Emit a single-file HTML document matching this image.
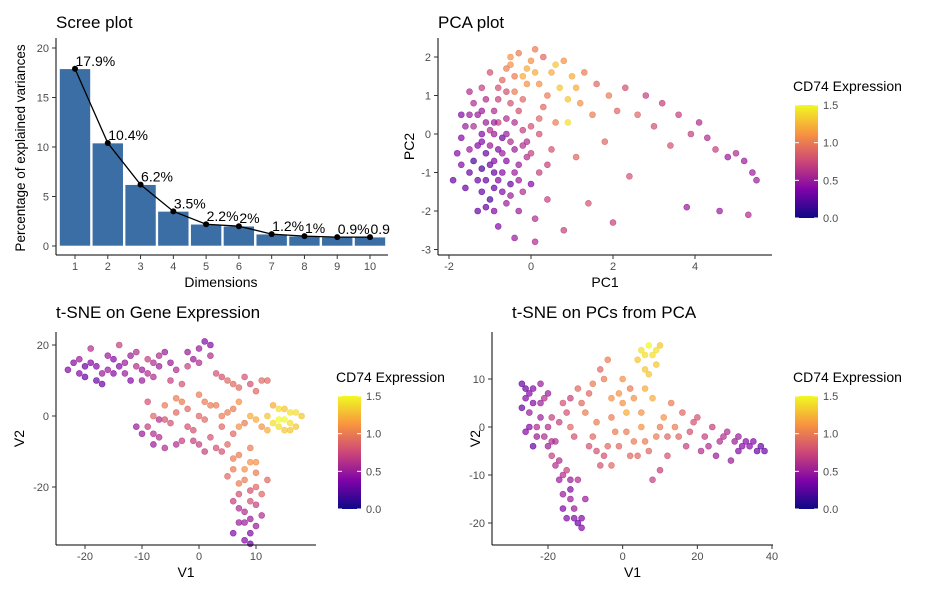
<!DOCTYPE html>
<html><head><meta charset="utf-8"><style>
body{margin:0;background:#fff}
svg{display:block;font-family:"Liberation Sans",Arial,sans-serif}
.tick{font-size:11px;fill:#4d4d4d}
.axt{font-size:14px;fill:#000}
.ttl{font-size:17px;fill:#000}
</style></head><body>
<svg id="svg" width="931" height="595" viewBox="0 0 931 595">
<defs>
<linearGradient id="plasma" x1="0" y1="1" x2="0" y2="0">
<stop offset="0" stop-color="#0d0887"/><stop offset="0.25" stop-color="#7e03a8"/><stop offset="0.5" stop-color="#cc4778"/><stop offset="0.75" stop-color="#f89540"/><stop offset="1" stop-color="#f0f921"/>
</linearGradient>
<clipPath id="screeClip"><rect x="56" y="30" width="334" height="230"/></clipPath>
</defs>
</svg>
<script>
const screeDims=[1,2,3,4,5,6,7,8,9,10];
const screeVals=[17.9,10.4,6.2,3.5,2.2,2,1.2,1,0.9,0.9];
const screeLabels=["17.9%","10.4%","6.2%","3.5%","2.2%","2%","1.2%","1%","0.9%","0.9%"];
const screeYTicks=[0,5,10,15,20];
const pcaPoints=[[-1.8,-0.5,.4],[-1.6,0.2,.5],[-1.5,-1.0,.3],[-1.4,0.8,.6],[-1.3,-0.3,.4],[-1.2,1.2,.7],[-1.2,-1.5,.3],[-1.1,0.3,.5],[-1.0,-0.8,.3],[-1.0,1.6,.8],[-0.9,-2.0,.4],[-0.9,0.0,.5],[-0.8,0.9,.7],[-0.8,-1.2,.4],[-0.7,1.4,.9],[-0.7,-0.5,.5],[-0.6,0.4,.6],[-0.6,-1.8,.5],[-0.5,1.8,1.1],[-0.5,-0.2,.6],[-0.4,1.1,1.0],[-0.4,-1.0,.5],[-0.3,2.1,1.0],[-0.3,0.6,.8],[-0.2,-1.5,.6],[-0.2,1.5,1.2],[-0.1,-0.6,.6],[0.0,1.9,1.1],[0.0,0.2,.8],[0.1,-2.2,.6],[0.2,1.3,1.1],[0.2,-1.0,.7],[0.3,2.0,.9],[0.3,0.7,.9],[0.4,-1.7,.7],[0.5,1.6,1.2],[0.5,-0.4,.8],[0.6,0.3,1.0],[0.7,1.2,1.3],[0.8,-2.5,.7],[0.9,0.3,1.4],[1.0,1.5,1.2],[1.1,-0.6,.9],[1.2,0.8,1.1],[1.3,1.6,1.0],[1.4,-1.8,.8],[1.5,0.5,1.0],[1.6,1.3,.9],[1.8,-0.2,.9],[1.9,1.0,1.0],[2.0,-2.3,.7],[2.1,0.6,.9],[2.3,1.2,.8],[2.4,-1.1,.8],[2.6,0.5,.9],[2.8,1.0,.7],[3.0,0.2,.8],[3.2,0.8,.7],[3.4,-0.3,.8],[3.6,0.5,.7],[3.8,-1.9,.5],[3.9,0.0,.7],[4.1,0.3,.6],[4.3,-0.1,.6],[4.5,-0.4,.7],[4.6,-2.0,.5],[4.8,-0.6,.5],[5.0,-0.5,.6],[5.2,-0.7,.5],[5.3,-2.1,.6],[5.5,-1.2,.5],[5.4,-1.0,.5],[-1.9,-1.2,.3],[-1.7,-0.1,.4],[-1.5,0.5,.5],[-1.3,-2.0,.3],[-1.1,-0.5,.3],[-0.9,0.6,.6],[-0.8,-2.4,.4],[-0.6,1.1,.8],[-0.4,-2.7,.5],[-0.2,0.9,.9],[0.1,-2.8,.6],[0.4,1.0,1.0],[-0.7,-0.1,.3],[-1.4,-0.7,.2],[-1.0,-1.7,.2],[-0.5,-1.3,.3],[0.0,-1.3,.4],[-1.6,-1.4,.3],[-1.2,-0.9,.2],[-0.9,-1.4,.3],[-0.3,-2.0,.5],[-0.1,1.7,1.2],[0.6,1.8,1.3],[-0.6,1.7,1.0],[-1.1,0.9,.6],
[-1.7,-0.8,.4],[-1.5,-0.4,.5],[-1.4,0.2,.6],[-1.3,0.5,.5],[-1.2,-0.2,.4],[-1.1,-1.2,.3],[-1.0,0.1,.6],[-1.0,-0.3,.5],[-0.9,-0.7,.4],[-0.8,0.3,.7],[-0.8,-0.4,.4],[-0.7,-1.0,.4],[-0.6,0.0,.5],[-0.6,-0.7,.4],[-0.5,0.8,.8],[-0.5,-1.6,.5],[-0.4,0.3,.6],[-0.4,-0.4,.5],[-0.3,-1.2,.5],[-0.2,0.1,.7],[-0.1,-0.2,.6],[-0.8,1.2,.8],[-0.4,1.5,1.0],[-0.1,1.3,1.1],[0.1,1.6,1.2],[0.2,0.4,.9],[0.4,-0.8,.7],[-1.2,0.6,.5],[-1.5,1.1,.6],[-1.7,0.5,.4],[-1.3,-1.2,.3],[-1.1,-1.9,.3],[-0.9,-1.0,.3],[-0.7,-1.5,.4],[-0.3,-0.8,.5],[-0.2,-0.3,.6],[-0.9,0.3,.5],[-1.2,0.0,.4],[0.0,-0.5,.7],[0.2,0.0,.8],[-0.5,2.0,1.1],[0.1,2.2,1.0],[0.8,1.9,1.1],[1.1,1.2,1.2],[0.9,0.9,1.3]];
const geneTsne=[[-23,13,.4],[-21,16,.5],[-20,11,.3],[-19,19,.6],[-18,14,.4],[-17,9,.3],[-16,17,.5],[-15,12,.4],[-14,20,.7],[-13,15,.5],[-12,10,.4],[-11,18,.6],[-10,13,.5],[-9,16,.7],[-8,11,.6],[-7,14,.5],[-6,18,.5],[-5,10,.7],[-4,13,.6],[-3,9,.8],[0,19,.5],[1,21,.4],[2,17,.6],[-1,16,.5],[3,12,.8],[5,10,.9],[7,8,.9],[9,9,.8],[11,10,.9],[-10,-5,.5],[-9,-3,.7],[-8,0,.9],[-7,-6,.6],[-6,3,1.0],[-5,-2,.8],[-4,5,1.0],[-3,-7,.7],[-2,2,.9],[-1,-4,.8],[0,6,1.0],[1,-1,.9],[2,-6,.8],[3,3,1.0],[4,-3,.9],[5,1,1.0],[6,-5,.9],[7,4,1.1],[8,-2,1.0],[9,0,1.2],[12,0,1.3],[13,-2,1.4],[14,2,1.4],[15,-1,1.5],[16,1,1.4],[17,-3,1.3],[13,3,1.2],[15,-4,1.3],[11,-3,1.1],[18,0,1.3],[4,-10,.8],[6,-12,1.0],[8,-15,1.1],[10,-13,1.1],[5,-17,.9],[7,-19,1.0],[9,-21,.8],[6,-24,.7],[8,-27,.6],[10,-25,.7],[7,-30,.5],[9,-33,.4],[8,-35,.4],[11,-22,.9],[12,-18,.9],[9,-9,1.0],[-7,-1,.6],[-4,-8,.6],[0,-8,.7],[3,-9,.8],[-9,4,.8],[-22,15,.4],[-20,14,.3],[-17,12,.5],[-14,14,.4],[-12,17,.5],[-8,15,.6],[14,-1,1.5],[16,-2,1.4],[10,-16,1.0],[8,-30,.5],
[-21,12,.4],[-19,15,.4],[-18,10,.3],[-16,13,.5],[-15,16,.4],[-13,12,.5],[-11,14,.6],[-10,10,.5],[-9,12,.6],[-7,17,.6],[-5,15,.5],[-2,14,.7],[0,15,.6],[2,20,.4],[-2,18,.5],[4,11,.8],[6,9,.9],[8,11,.8],[10,7,.9],[12,10,.9],[-11,-3,.5],[-8,-5,.6],[-6,-1,.8],[-4,1,.9],[-2,-3,.8],[0,0,.9],[2,3,1.0],[4,0,1.0],[6,2,1.0],[7,-3,1.1],[-3,4,1.0],[1,4,1.0],[10,-1,1.2],[12,-4,1.2],[14,-3,1.4],[15,2,1.3],[17,1,1.4],[16,-4,1.3],[5,-8,.9],[7,-11,1.0],[9,-13,1.1],[6,-15,1.0],[8,-18,1.0],[10,-20,.9],[7,-22,.8],[9,-24,.8],[7,-26,.6],[9,-29,.5],[10,-31,.5],[6,-33,.4],[9,-36,.3],[11,-28,.6],[-8,-8,.5],[-6,-9,.6],[-1,-7,.7],[1,-10,.7]];
const pcTsne=[[-27,9,.3],[-26,6,.4],[-25,3,.5],[-24,8,.4],[-23,0,.6],[-22,5,.5],[-21,-2,.6],[-20,7,.5],[-19,2,.7],[-18,-3,.6],[-16,5,.8],[-14,0,.9],[-12,8,.9],[-10,3,1.0],[-8,9,1.0],[-6,12,.9],[-4,14,1.0],[-3,6,1.1],[-2,-1,1.0],[0,10,1.1],[1,3,1.2],[2,8,1.0],[4,14,1.3],[5,16,1.4],[6,12,1.3],[7,17,1.5],[8,15,1.4],[9,13,1.3],[10,17,1.3],[6,8,1.2],[3,-3,1.0],[5,0,1.1],[7,-5,.9],[9,-2,1.0],[11,2,1.1],[12,-6,.8],[10,-9,.7],[8,-11,.7],[14,0,1.0],[16,3,.9],[18,-1,.8],[20,2,.8],[22,-2,.7],[24,0,.7],[26,-3,.6],[28,-1,.6],[30,-3,.5],[32,-4,.4],[34,-4,.4],[36,-5,.3],[38,-5,.3],[25,-6,.5],[29,-7,.5],[21,-5,.6],[-18,-8,.6],[-17,-11,.5],[-15,-9,.7],[-16,-14,.5],[-14,-13,.4],[-13,-17,.5],[-15,-19,.4],[-12,-20,.3],[-11,-21,.4],[-10,-15,.5],[-12,-11,.6],[-19,-6,.7],[-6,-8,.8],[-4,-4,.9],[-8,-2,.9],[-5,-6,.8],[-26,-1,.4],[-24,-4,.3],[-22,9,.5],[-14,6,.7],[-9,-4,.8],[0,5,1.1],[2,-6,.9],[13,5,1.0],[17,-4,.7],[-27,4,.3],[-25,7,.4],[-20,-4,.5],[35,-3,.4],[31,-5,.4],
[-26,8,.3],[-25,0,.4],[-24,5,.4],[-23,-2,.5],[-22,2,.5],[-21,6,.6],[-20,0,.6],[-19,-3,.6],[-17,1,.7],[-15,3,.8],[-13,-2,.8],[-11,5,.9],[-9,7,.9],[-7,1,1.0],[-5,10,1.0],[-3,2,1.0],[-1,7,1.1],[1,-1,1.0],[3,6,1.1],[5,3,1.1],[7,11,1.3],[8,6,1.2],[6,15,1.4],[9,16,1.4],[4,-6,.9],[6,-3,1.0],[10,0,1.0],[12,-2,.9],[15,-2,.9],[19,1,.8],[23,-4,.6],[27,-2,.6],[31,-2,.5],[33,-3,.4],[37,-4,.3],[-17,-7,.6],[-16,-10,.6],[-14,-15,.5],[-13,-19,.4],[-16,-17,.4],[-11,-19,.4],[-14,-11,.5],[-7,-5,.8],[-3,-8,.9],[-1,-4,.9]];

const svg=document.getElementById('svg');
const NS='http://www.w3.org/2000/svg';
function mk(tag,attrs,parent,text){const e=document.createElementNS(NS,tag);for(const k in attrs)e.setAttribute(k,attrs[k]);if(text!==undefined)e.textContent=text;(parent||svg).appendChild(e);return e;}
const stops=[[0,[13,8,135]],[0.25,[126,3,168]],[0.5,[204,71,120]],[0.75,[248,149,64]],[1,[240,249,33]]];
function plasma(v){v=Math.max(0,Math.min(1,v));for(let i=1;i<stops.length;i++){if(v<=stops[i][0]){const a=stops[i-1],b=stops[i];const t=(v-a[0])/(b[0]-a[0]);const c=a[1].map((x,j)=>Math.round(x+(b[1][j]-x)*t));return `rgb(${c[0]},${c[1]},${c[2]})`;}}return 'rgb(240,249,33)';}
function lin(d0,d1,r0,r1){return v=>r0+(v-d0)*(r1-r0)/(d1-d0);}

// ---- Scree
{
const g=mk('g',{});


const x=lin(1,10,75,370), y=lin(0,20,246,48);
mk('text',{x:56,y:28,class:'ttl'},g,'Scree plot');
const bars=mk('g',{},g);
screeVals.forEach((v,i)=>{const r=mk('rect',{x:x(screeDims[i])-15.5,y:y(v),width:31,height:y(0)-y(v),fill:'#3a6ea5',stroke:'#fff','stroke-width':0.6},bars);

});
const line=mk('polyline',{points:screeVals.map((v,i)=>x(screeDims[i])+','+y(v)).join(' '),fill:'none',stroke:'#000','stroke-width':1.3},g);


const lg=mk('g',{'clip-path':'url(#screeClip)'},g);
screeVals.forEach((v,i)=>{const c=mk('circle',{cx:x(screeDims[i]),cy:y(v),r:3,fill:'#000'},g);


const t=mk('text',{x:x(screeDims[i])+0.5,y:y(v)-3,'font-size':'14px',fill:'#000'},lg,screeLabels[i]);

});
mk('line',{x1:56,y1:38,x2:56,y2:255,stroke:'#000','stroke-width':1},g);
mk('line',{x1:56,y1:255,x2:388,y2:255,stroke:'#000','stroke-width':1},g);
screeYTicks.forEach(t=>{mk('line',{x1:52,x2:56,y1:y(t),y2:y(t),stroke:'#333'},g);mk('text',{x:49,y:y(t)+4,'text-anchor':'end',class:'tick'},g,t);});
screeDims.forEach(d=>{mk('line',{x1:x(d),x2:x(d),y1:255,y2:259,stroke:'#333'},g);mk('text',{x:x(d),y:270,'text-anchor':'middle',class:'tick'},g,d);});
mk('text',{x:221,y:287,'text-anchor':'middle',class:'axt'},g,'Dimensions');
mk('text',{x:0,y:0,transform:'translate(25,148) rotate(-90)','text-anchor':'middle','font-size':'13.5px'},g,'Percentage of explained variances');
}

function scatter(name,title,pts,ax,xt,yt,xlab,ylab,legX,legY){
const g=mk('g',{});


mk('text',{x:ax.title[0],y:ax.title[1],class:'ttl'},g,title);
const x=lin(ax.xd[0],ax.xd[1],ax.xr[0],ax.xr[1]), y=lin(ax.yd[0],ax.yd[1],ax.yr[0],ax.yr[1]);
const pg=mk('g',{},g);
pts.forEach(p=>{const c=mk('circle',{cx:x(p[0]),cy:y(p[1]),r:3,fill:plasma(p[2]/1.5),'fill-opacity':0.7,stroke:plasma(p[2]/1.5),'stroke-opacity':0.8,'stroke-width':0.6},pg);

});
mk('line',{x1:ax.left,y1:ax.top,x2:ax.left,y2:ax.bottom,stroke:'#000'},g);
mk('line',{x1:ax.left,y1:ax.bottom,x2:ax.right,y2:ax.bottom,stroke:'#000'},g);
xt.forEach(t=>{mk('line',{x1:x(t),x2:x(t),y1:ax.bottom,y2:ax.bottom+4,stroke:'#333'},g);mk('text',{x:x(t),y:ax.bottom+15,'text-anchor':'middle',class:'tick'},g,t);});
yt.forEach(t=>{mk('line',{x1:ax.left-4,x2:ax.left,y1:y(t),y2:y(t),stroke:'#333'},g);mk('text',{x:ax.left-7,y:y(t)+4,'text-anchor':'end',class:'tick'},g,t);});
mk('text',{x:(ax.left+ax.right)/2,y:ax.bottom+32,'text-anchor':'middle',class:'axt'},g,xlab);
mk('text',{x:0,y:0,transform:`translate(${ax.ylabX},${(ax.top+ax.bottom)/2}) rotate(-90)`,'text-anchor':'middle',class:'axt'},g,ylab);
const lg=mk('g',{},g);


mk('text',{x:legX,y:legY,'font-size':'14px'},lg,'CD74 Expression');
const top=legY+14,h=113;
mk('rect',{x:legX+2,y:top,width:23,height:h,fill:'url(#plasma)'},lg);
[0,0.5,1,1.5].forEach(v=>{const yy=top+h-v/1.5*h;mk('line',{x1:legX+2,x2:legX+6,y1:yy,y2:yy,stroke:'#fff'},lg);mk('line',{x1:legX+21,x2:legX+25,y1:yy,y2:yy,stroke:'#fff'},lg);mk('text',{x:legX+30,y:yy+4,class:'tick',fill:'#333'},lg,v.toFixed(1));});
}
const pcaX=[-2,0,2,4], pcaY=[-3,-2,-1,0,1,2];
scatter('pca-plot','PCA plot',pcaPoints,{title:[438,28],xd:[0,4],xr:[531,695],yd:[0,2],yr:[134,57],left:438,right:772,top:38,bottom:255,ylabX:414},pcaX,pcaY,'PC1','PC2',793,91);
const gX=[-20,-10,0,10], gY=[-20,0,20];
scatter('tsne-gene-plot','t-SNE on Gene Expression',geneTsne,{title:[56,318],xd:[-20,10],xr:[85,256],yd:[0,20],yr:[416,345],left:56,right:316,top:332,bottom:545,ylabX:24},gX,gY,'V1','V2',336,382);
const pX=[-20,0,20,40], pY=[-20,-10,0,10];
scatter('tsne-pc-plot','t-SNE on PCs from PCA',pcTsne,{title:[512,318],xd:[-20,40],xr:[548,772],yd:[0,10],yr:[427,379],left:492,right:773,top:332,bottom:545,ylabX:480},pX,pY,'V1','V2',793,382);
</script>
</body></html>
